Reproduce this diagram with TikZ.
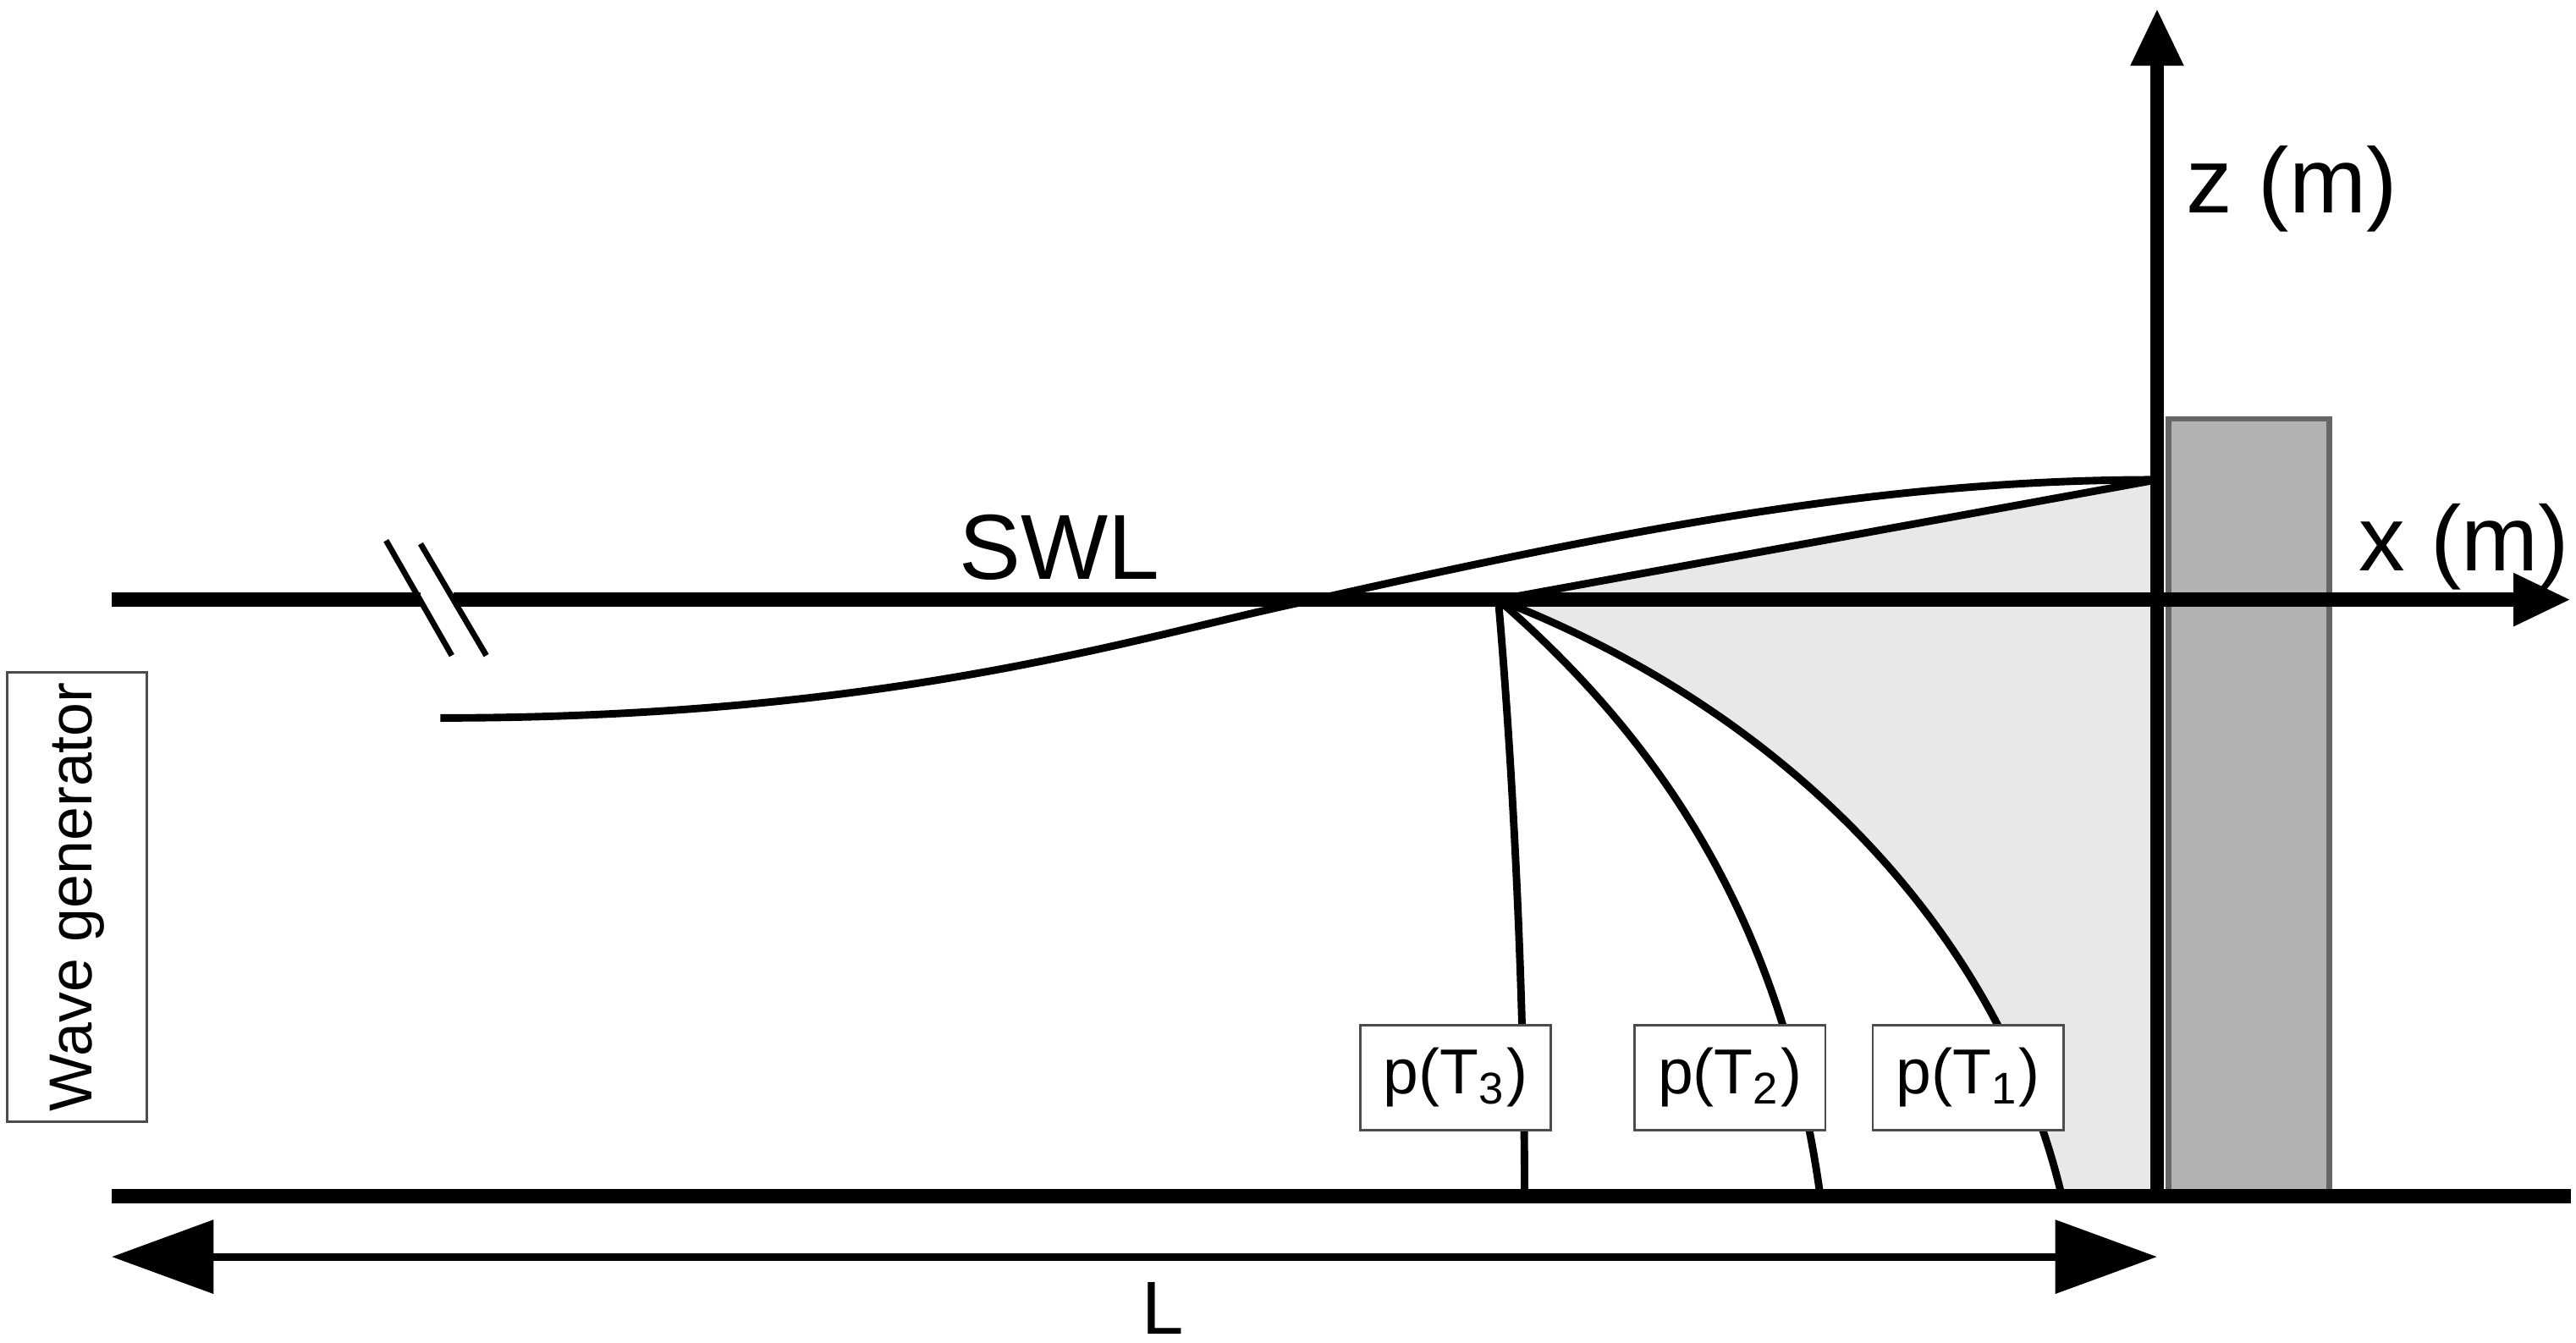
\documentclass[tikz,border=0pt]{standalone}
\usepackage{fontspec}
\setmainfont{Liberation Sans}
\usetikzlibrary{arrows.meta}
\begin{document}
\begin{tikzpicture}[x=0.01cm,y=-0.01cm,
  thick line/.style={line width=2.4pt},
  curve/.style={line width=1.3pt},
  lab/.style={draw=black!70,fill=white,minimum width=1.16cm,minimum height=0.64cm,inner sep=0pt,font=\fontsize{11}{12}\selectfont},
  txt/.style={font=\fontsize{16}{18}\selectfont}]
\useasboundingbox (0,0) rectangle (1568,817);
% shaded region
\fill[black!9] (912,365) -- (1313,292) -- (1313,728) -- (1255,728) .. controls (1215,560) and (1080,430) .. (912,365) -- cycle;
\fill[black!30] (1320,255) rectangle (1418,728);
\draw[black!60,line width=1pt] (1320,255) rectangle (1418,728);
% axes
\coordinate (sl) at (68,365); \coordinate (g1) at (256,365); \coordinate (g2) at (276,365); \coordinate (sr) at (1565,365);
\coordinate (bl) at (68,728); \coordinate (br) at (1565,728);
\coordinate (zb) at (1313,728); \coordinate (zt) at (1313,5);
\draw[thick line] (sl) -- (g1);
\draw[thick line,-{Triangle[length=0.35cm,width=0.3cm]}] (g2) -- (sr);
\draw[thick line] (bl) -- (br);
\draw[thick line,-{Triangle[length=0.35cm,width=0.3cm]}] (zb) -- (zt);
% break marks
\draw[line width=1pt] (235,329) -- (275,399) (256,331) -- (296,399);
% wave
\coordinate (w0) at (268,437); \coordinate (w1) at (1313,292); \coordinate (o) at (912,365);
\draw[curve] (w0) .. controls (550,437) and (700,385) .. (800,365) .. controls (1000,320) and (1150,292) .. (w1);
\draw[curve] (o) -- (w1);
% pressure curves
\coordinate (e3) at (928,728); \coordinate (e2) at (1108,728); \coordinate (e1) at (1255,728);
\draw[curve] (o) .. controls (922,480) and (928,620) .. (e3);
\draw[curve] (o) .. controls (1010,450) and (1085,560) .. (e2);
\draw[curve] (o) .. controls (1080,430) and (1215,560) .. (e1);
\node[lab] (p3) at (886,656) {p(T\textsubscript{3})};
\node[lab] (p2) at (1053,656) {p(T\textsubscript{2})};
\node[lab] (p1) at (1198,656) {p(T\textsubscript{1})};
% wave generator
\node[draw=black!70,minimum width=0.85cm,minimum height=2.73cm,inner sep=0pt] (wg) at (47,546) {};
\node[rotate=90,font=\fontsize{10.5}{12}\selectfont] (wgt) at (wg) {Wave generator};
% L arrow
\coordinate (la) at (68,765); \coordinate (lb) at (1313,765);
\draw[line width=1.3pt,{Triangle[length=0.62cm,width=0.44cm]}-{Triangle[length=0.62cm,width=0.44cm]}] (la) -- (lb);
\node[font=\fontsize{13}{14}\selectfont,anchor=base,inner sep=0pt] (L) at (708,812) {L};
\node[txt] (z) at (1395,115) {z (m)};
\node[txt] (x) at (1500,333) {x (m)};
\node[txt] (swl) at (645,333) {SWL};
\end{tikzpicture}
\end{document}
